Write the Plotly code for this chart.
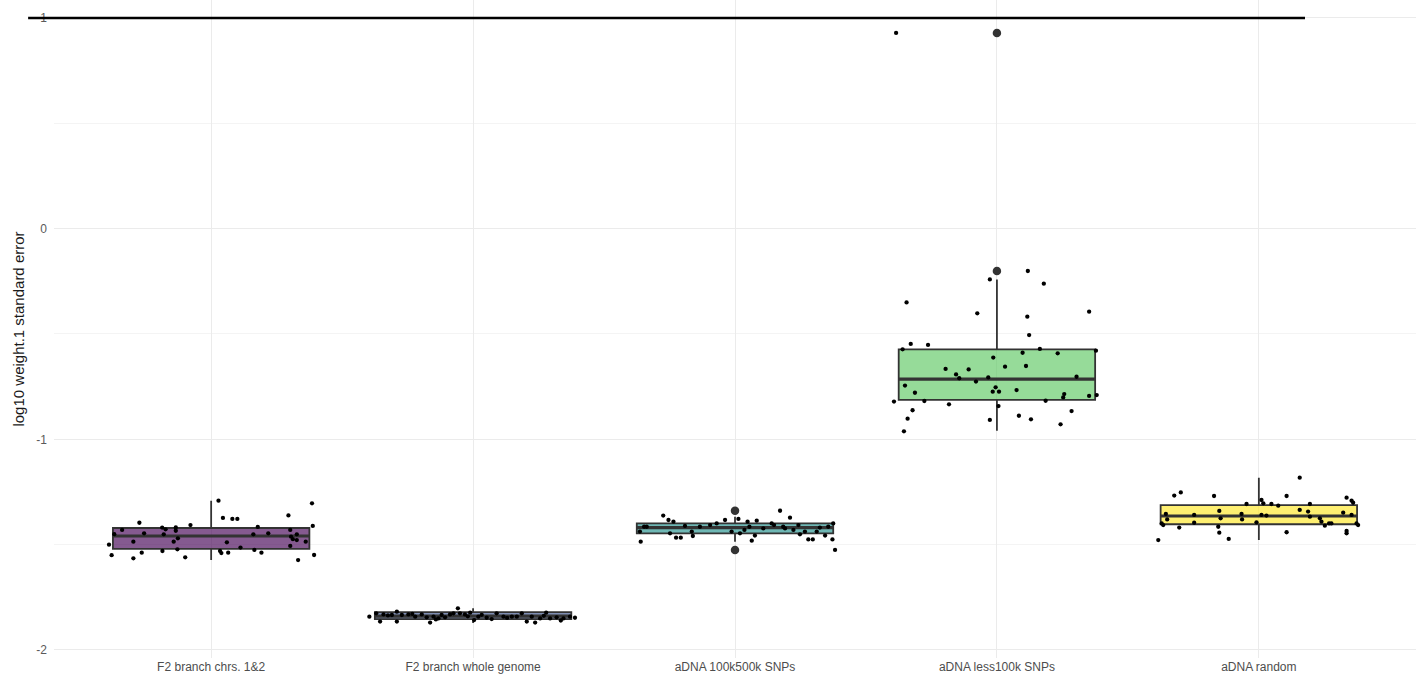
import plotly.graph_objects as go

# Groups along the x axis
categories = [
    "F2 branch chrs. 1&2",
    "F2 branch whole genome",
    "aDNA 100k500k SNPs",
    "aDNA less100k SNPs",
    "aDNA random",
]

# Box summaries (log10 weight.1 standard error)
box_q1 = [-1.520, -1.853, -1.446, -0.813, -1.403]
box_median = [-1.459, -1.839, -1.419, -0.714, -1.364]
box_q3 = [-1.421, -1.820, -1.399, -0.573, -1.312]
box_low = [-1.573, -1.872, -1.486, -0.959, -1.478]
box_high = [-1.291, -1.802, -1.367, -0.241, -1.182]

# Outliers beyond the whiskers: (group index, value)
outlier_group = [2, 2, 3, 3]
outlier_value = [-1.339, -1.525, -0.201, 0.929]

# Per-replicate values and their horizontal jitter, one list per group
g1_values = [-1.291, -1.304, -1.396, -1.373, -1.378, -1.378, -1.407, -1.361, -1.411, -1.416,
             -1.419, -1.427, -1.418, -1.434, -1.446, -1.451, -1.451, -1.446, -1.430, -1.451,
             -1.462, -1.478, -1.474, -1.470, -1.486, -1.486, -1.489, -1.486, -1.506, -1.514,
             -1.530, -1.522, -1.530, -1.540, -1.538, -1.525, -1.538, -1.538, -1.565, -1.560,
             -1.573, -1.549, -1.450, -1.500, -1.430, -1.550]
g1_jitter = [0.028, 0.385, -0.274, 0.045, 0.081, 0.100, -0.079, 0.295, 0.388, 0.178,
             -0.187, -0.174, -0.135, -0.135, -0.256, -0.181, 0.161, 0.218, 0.302, 0.327,
             0.305, 0.327, 0.312, -0.127, -0.297, -0.143, 0.060, 0.361, 0.302, 0.112,
             -0.186, -0.129, 0.034, 0.039, 0.065, 0.165, 0.192, -0.265, -0.297, -0.099,
             0.332, 0.393, -0.370, -0.390, -0.340, -0.380]

g2_values = [-1.842, -1.826, -1.865, -1.831, -1.834, -1.818, -1.865, -1.834, -1.831, -1.842,
             -1.831, -1.845, -1.870, -1.842, -1.850, -1.834, -1.845, -1.831, -1.826, -1.802,
             -1.826, -1.831, -1.823, -1.858, -1.842, -1.847, -1.853, -1.826, -1.842, -1.842,
             -1.842, -1.826, -1.865, -1.842, -1.870, -1.850, -1.823, -1.850, -1.845, -1.850,
             -1.842, -1.847, -1.836, -1.829, -1.855, -1.840, -1.833, -1.848, -1.838, -1.860]
g2_jitter = [-0.396, -0.370, -0.355, -0.342, -0.310, -0.291, -0.291, -0.272, -0.247, -0.221,
             -0.196, -0.177, -0.164, -0.151, -0.132, -0.120, -0.107, -0.088, -0.075, -0.058,
             -0.050, -0.031, -0.011, 0.004, 0.020, 0.052, 0.071, 0.090, 0.116, 0.148,
             0.167, 0.186, 0.205, 0.224, 0.237, 0.256, 0.279, 0.294, 0.319, 0.345,
             0.370, 0.389, -0.325, -0.232, -0.142, -0.020, 0.033, 0.130, 0.270, 0.335]

g3_values = [-1.486, -1.362, -1.383, -1.391, -1.446, -1.467, -1.467, -1.438, -1.459, -1.399,
             -1.383, -1.438, -1.378, -1.446, -1.430, -1.391, -1.415, -1.481, -1.457, -1.386,
             -1.423, -1.399, -1.407, -1.339, -1.415, -1.423, -1.372, -1.430, -1.407, -1.451,
             -1.438, -1.475, -1.475, -1.438, -1.419, -1.457, -1.415, -1.399, -1.475, -1.525,
             -1.438, -1.415, -1.415, -1.411, -1.415, -1.407]
g3_jitter = [-0.360, -0.274, -0.254, -0.235, -0.248, -0.225, -0.207, -0.165, -0.161, -0.070,
             -0.038, -0.013, 0.013, 0.019, 0.036, 0.048, 0.055, 0.064, 0.076, 0.083,
             0.108, 0.140, 0.149, 0.172, 0.184, 0.191, 0.210, 0.223, 0.242, 0.248,
             0.267, 0.280, 0.297, 0.312, 0.324, 0.344, 0.356, 0.375, 0.372, 0.382,
             -0.363, -0.347, -0.337, -0.191, -0.134, -0.095]

g4_values = [-0.350, -0.402, -0.241, -0.201, -0.261, -0.418, -0.505, -0.394, -0.547, -0.552,
             -0.573, -0.612, -0.589, -0.571, -0.592, -0.579, -0.666, -0.668, -0.655, -0.652,
             -0.692, -0.710, -0.726, -0.706, -0.703, -0.745, -0.779, -0.774, -0.753, -0.774,
             -0.766, -0.785, -0.801, -0.794, -0.790, -0.821, -0.818, -0.834, -0.842, -0.817,
             -0.862, -0.902, -0.908, -0.888, -0.905, -0.866, -0.962, -0.929, 0.929]
g4_jitter = [-0.345, -0.075, -0.027, 0.118, 0.179, 0.116, 0.123, 0.352, -0.329, -0.263,
             -0.360, -0.014, 0.098, 0.164, 0.232, 0.378, -0.196, -0.108, 0.031, 0.111,
             -0.156, -0.144, -0.080, -0.033, 0.304, -0.351, -0.313, -0.016, -0.005, 0.008,
             0.075, 0.257, 0.253, 0.352, 0.381, -0.393, -0.277, -0.183, 0.006, 0.186,
             -0.322, -0.341, -0.027, 0.084, 0.130, 0.285, -0.355, 0.243, -0.385]

g5_values = [-1.478, -1.267, -1.252, -1.269, -1.182, -1.269, -1.307, -1.288, -1.304, -1.307,
             -1.315, -1.307, -1.277, -1.291, -1.301, -1.354, -1.380, -1.407, -1.419, -1.359,
             -1.396, -1.340, -1.375, -1.415, -1.443, -1.473, -1.354, -1.380, -1.394, -1.359,
             -1.362, -1.441, -1.335, -1.343, -1.367, -1.375, -1.391, -1.410, -1.399, -1.399,
             -1.348, -1.435, -1.446, -1.359, -1.399, -1.407, -1.399]
g5_jitter = [-0.384, -0.323, -0.298, -0.171, 0.156, 0.106, -0.047, 0.010, 0.017, 0.048,
             0.074, 0.195, 0.335, 0.354, 0.360, -0.355, -0.350, -0.365, -0.304, -0.247,
             -0.247, -0.151, -0.146, -0.155, -0.151, -0.115, -0.066, -0.064, -0.009, 0.010,
             0.029, 0.106, 0.156, 0.188, 0.195, 0.233, 0.239, 0.252, 0.268, 0.277,
             0.322, 0.335, 0.335, 0.354, 0.373, 0.379, -0.371]

group_values = [g1_values, g2_values, g3_values, g4_values, g5_values]
group_jitter = [g1_jitter, g2_jitter, g3_jitter, g4_jitter, g5_jitter]

# Viridis fills, semi-transparent
box_fills = [
    "rgba(68,1,84,0.65)",
    "rgba(59,82,139,0.65)",
    "rgba(33,144,140,0.65)",
    "rgba(93,200,99,0.65)",
    "rgba(253,231,37,0.65)",
]

box_width = 0.75
reference_level = 1.0
y_range = [-2.038, 1.0854]
x_range = [-0.6, 4.6]
edge_color = "#333333"

fig = go.Figure()

for i, cat in enumerate(categories):
    fig.add_trace(go.Box(
        x=[i],
        q1=[box_q1[i]], median=[box_median[i]], q3=[box_q3[i]],
        lowerfence=[box_low[i]], upperfence=[box_high[i]],
        width=box_width, whiskerwidth=0, boxpoints=False,
        fillcolor=box_fills[i],
        line=dict(color=edge_color, width=1.8),
        name=cat, showlegend=False, hoverinfo="skip",
    ))

# Heavier median bar across each box
for i in range(len(categories)):
    fig.add_trace(go.Scatter(
        x=[i - box_width / 2, i + box_width / 2],
        y=[box_median[i], box_median[i]],
        mode="lines", line=dict(color=edge_color, width=3.2),
        showlegend=False, hoverinfo="skip",
    ))

fig.add_trace(go.Scatter(
    x=outlier_group, y=outlier_value, mode="markers",
    marker=dict(color=edge_color, size=8.5),
    showlegend=False, hoverinfo="skip",
))

for i in range(len(categories)):
    fig.add_trace(go.Scatter(
        x=[i + j for j in group_jitter[i]],
        y=group_values[i],
        mode="markers",
        marker=dict(color="black", size=4.3),
        showlegend=False, hoverinfo="skip",
    ))

# Horizontal reference line at log10 SE = 1, running past the left edge of the panel
y_frac = (reference_level - y_range[0]) / (y_range[1] - y_range[0])
fig.add_shape(
    type="line", xref="paper", yref="paper",
    x0=-0.019, x1=0.9185, y0=y_frac, y1=y_frac,
    line=dict(color="black", width=2.5),
)

fig.update_layout(
    width=1423, height=677,
    margin=dict(l=54, r=7, t=0, b=19),
    paper_bgcolor="white", plot_bgcolor="white",
    font=dict(family="Liberation Sans, Arial, sans-serif"),
    xaxis=dict(
        range=x_range, tickmode="array",
        tickvals=list(range(len(categories))), ticktext=categories,
        showgrid=True, gridcolor="#ebebeb", gridwidth=1,
        zeroline=False, showline=False, ticks="",
        tickfont=dict(size=12, color="#4d4d4d"),
    ),
    yaxis=dict(
        range=y_range, tickmode="array",
        tickvals=[-2, -1, 0, 1], ticktext=["-2", "-1", "0", "1"],
        showgrid=True, gridcolor="#ebebeb", gridwidth=1,
        minor=dict(tickvals=[-1.5, -0.5, 0.5], showgrid=True,
                   gridcolor="#f4f4f4", gridwidth=0.8),
        zeroline=False, showline=False, ticks="",
        ticklabelstandoff=6,
        tickfont=dict(size=12, color="#5a5a5a"),
        title=dict(text="log10 weight.1 standard error",
                   font=dict(size=15, color="#1a1a1a"), standoff=8),
    ),
)

fig.write_html("out.html")
